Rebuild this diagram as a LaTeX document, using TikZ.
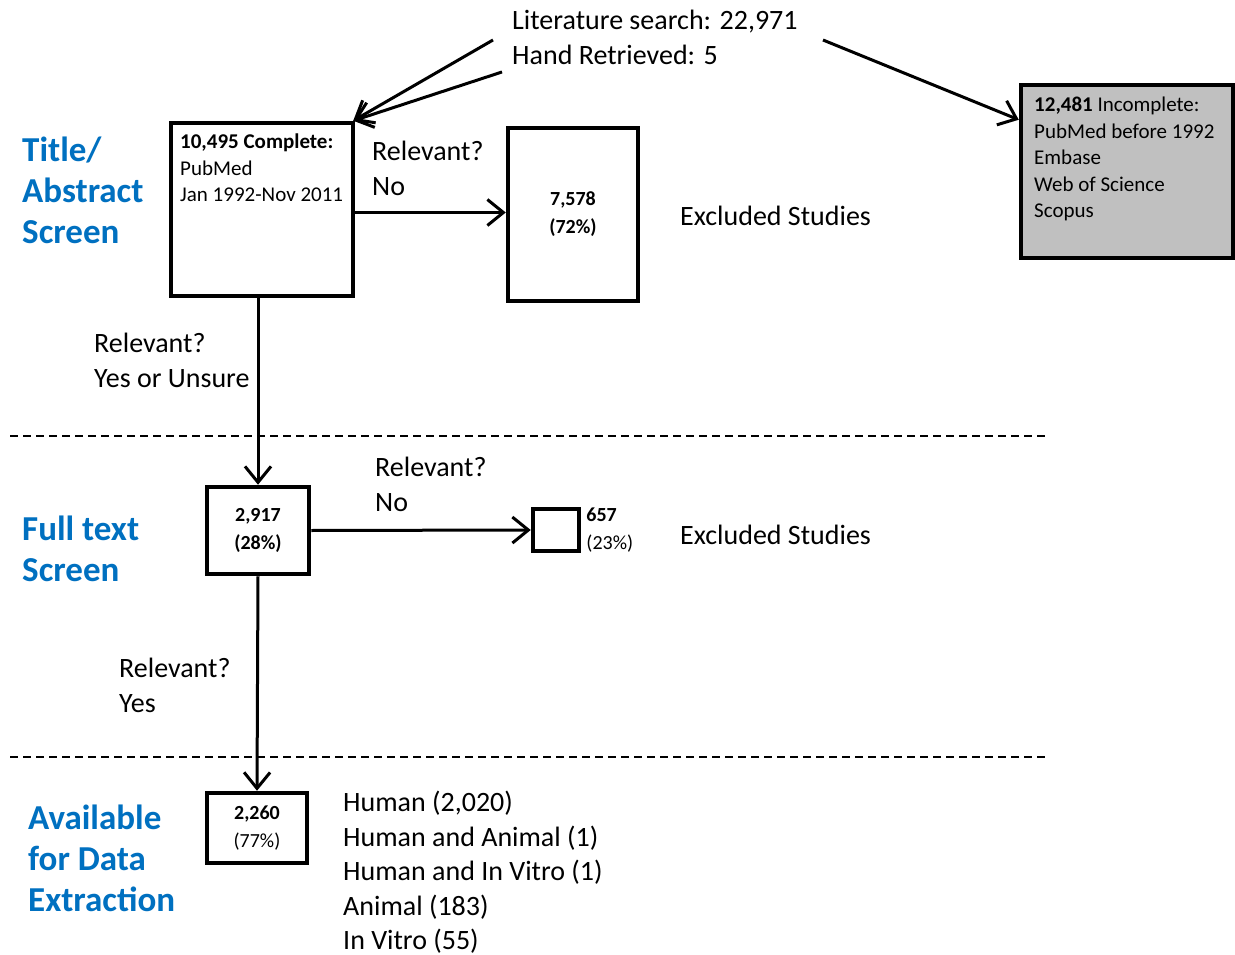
\documentclass[tikz,border=0pt]{standalone}
\usepackage{fontspec}
\setmainfont{Carlito}
\usetikzlibrary{arrows.meta,positioning}
\definecolor{hdblue}{HTML}{0070C0}
\definecolor{boxgrey}{HTML}{C0C0C0}

\begin{document}
\begin{tikzpicture}[x=1pt,y=-1pt,
  box/.style={draw,line width=4.5pt,inner sep=0pt,align=center,font=\fontsize{20}{28}\selectfont},
  arr/.style={line width=3pt,-{Straight Barb[length=16pt,width=26pt]}},
  txt/.style={anchor=north west,inner sep=0pt,align=left,font=\fontsize{28}{34.5}\selectfont},
  small/.style={font=\fontsize{21}{26.5}\selectfont},
  head/.style={anchor=north west,inner sep=0pt,align=left,text=hdblue,font=\fontsize{35}{41}\selectfont\bfseries},
  sep/.style={line width=1.5pt,dash pattern=on 8pt off 5pt}]
  \useasboundingbox (0,0) rectangle (1235,955);

  % boxes
  \node[box,minimum width=182pt,minimum height=173pt] (A) at (262,209.5) {};
  \node[box,minimum width=130pt,minimum height=173pt] (B) at (573,214.5) {\textbf{7,578}\\\textbf{(72\%)}};
  \node[box,fill=boxgrey,minimum width=212pt,minimum height=173pt] (C) at (1127,171.5) {};
  \node[box,minimum width=102pt,minimum height=87pt] (D) at (258,530.5) {\textbf{2,917}\\\textbf{(28\%)}};
  \node[box,minimum width=46pt,minimum height=42pt] (E) at (556,530) {};
  \node[box,minimum width=100pt,minimum height=70pt] (F) at (257,828) {\textbf{2,260}\\(77\%)};

  % texts
  \node[txt] (L) at (512,10) {Literature search: 22,971\\Hand Retrieved: 5};
  \node[txt,small] (At) at (180,134) {\textbf{10,495 Complete:}\\PubMed\\Jan 1992-Nov 2011};
  \node[txt,small] (Ct) at (1034,97) {\textbf{12,481} Incomplete:\\PubMed before 1992\\Embase\\Web of Science\\Scopus};
  \node[txt] (R1) at (372,141) {Relevant?\\No};
  \node[txt] (X1) at (680,206) {Excluded Studies};
  \node[txt] (R2) at (94,333) {Relevant?\\Yes or Unsure};
  \node[txt] (R3) at (375,457) {Relevant?\\No};
  \node[right=5pt of E,inner sep=0pt,align=left,font=\fontsize{20}{28}\selectfont] (Et) {\textbf{657}\\(23\%)};
  \node[txt] (X2) at (680,525) {Excluded Studies};
  \node[txt] (R4) at (119,658) {Relevant?\\Yes};
  \node[txt] (Ft) at (343,791) {Human (2,020)\\Human and Animal (1)\\Human and In Vitro (1)\\Animal (183)\\In Vitro (55)};

  % stage headings
  \node[head] (H1) at (22,137) {Title/\\Abstract\\Screen};
  \node[head] (H2) at (22,516) {Full text\\Screen};
  \node[head] (H3) at (28,805) {Available\\for Data\\Extraction};

  % separators
  \draw[sep] (10,436) -- (1048,436);
  \draw[sep] (10,757) -- (1048,757);

  % arrows
  \coordinate (l1) at (493,40);
  \coordinate (l2) at (502,72);
  \coordinate (l3) at (823,40);
  \draw[arr] (l1) -- ([xshift=-2pt]A.north east);
  \draw[arr] (l2) -- ([xshift=-2pt]A.north east);
  \draw[arr] (l3) -- ([yshift=-37pt]C.north west);
  \draw[arr] ([yshift=-3pt]A.east) -- ([yshift=-3pt]A.east -| B.west);
  \draw[arr] (D.north |- A.south) -- (D.north);
  \draw[arr] (D.east) -- (E.west);
  \draw[arr] (D.south) -- (F.north);

\end{tikzpicture}
\end{document}
